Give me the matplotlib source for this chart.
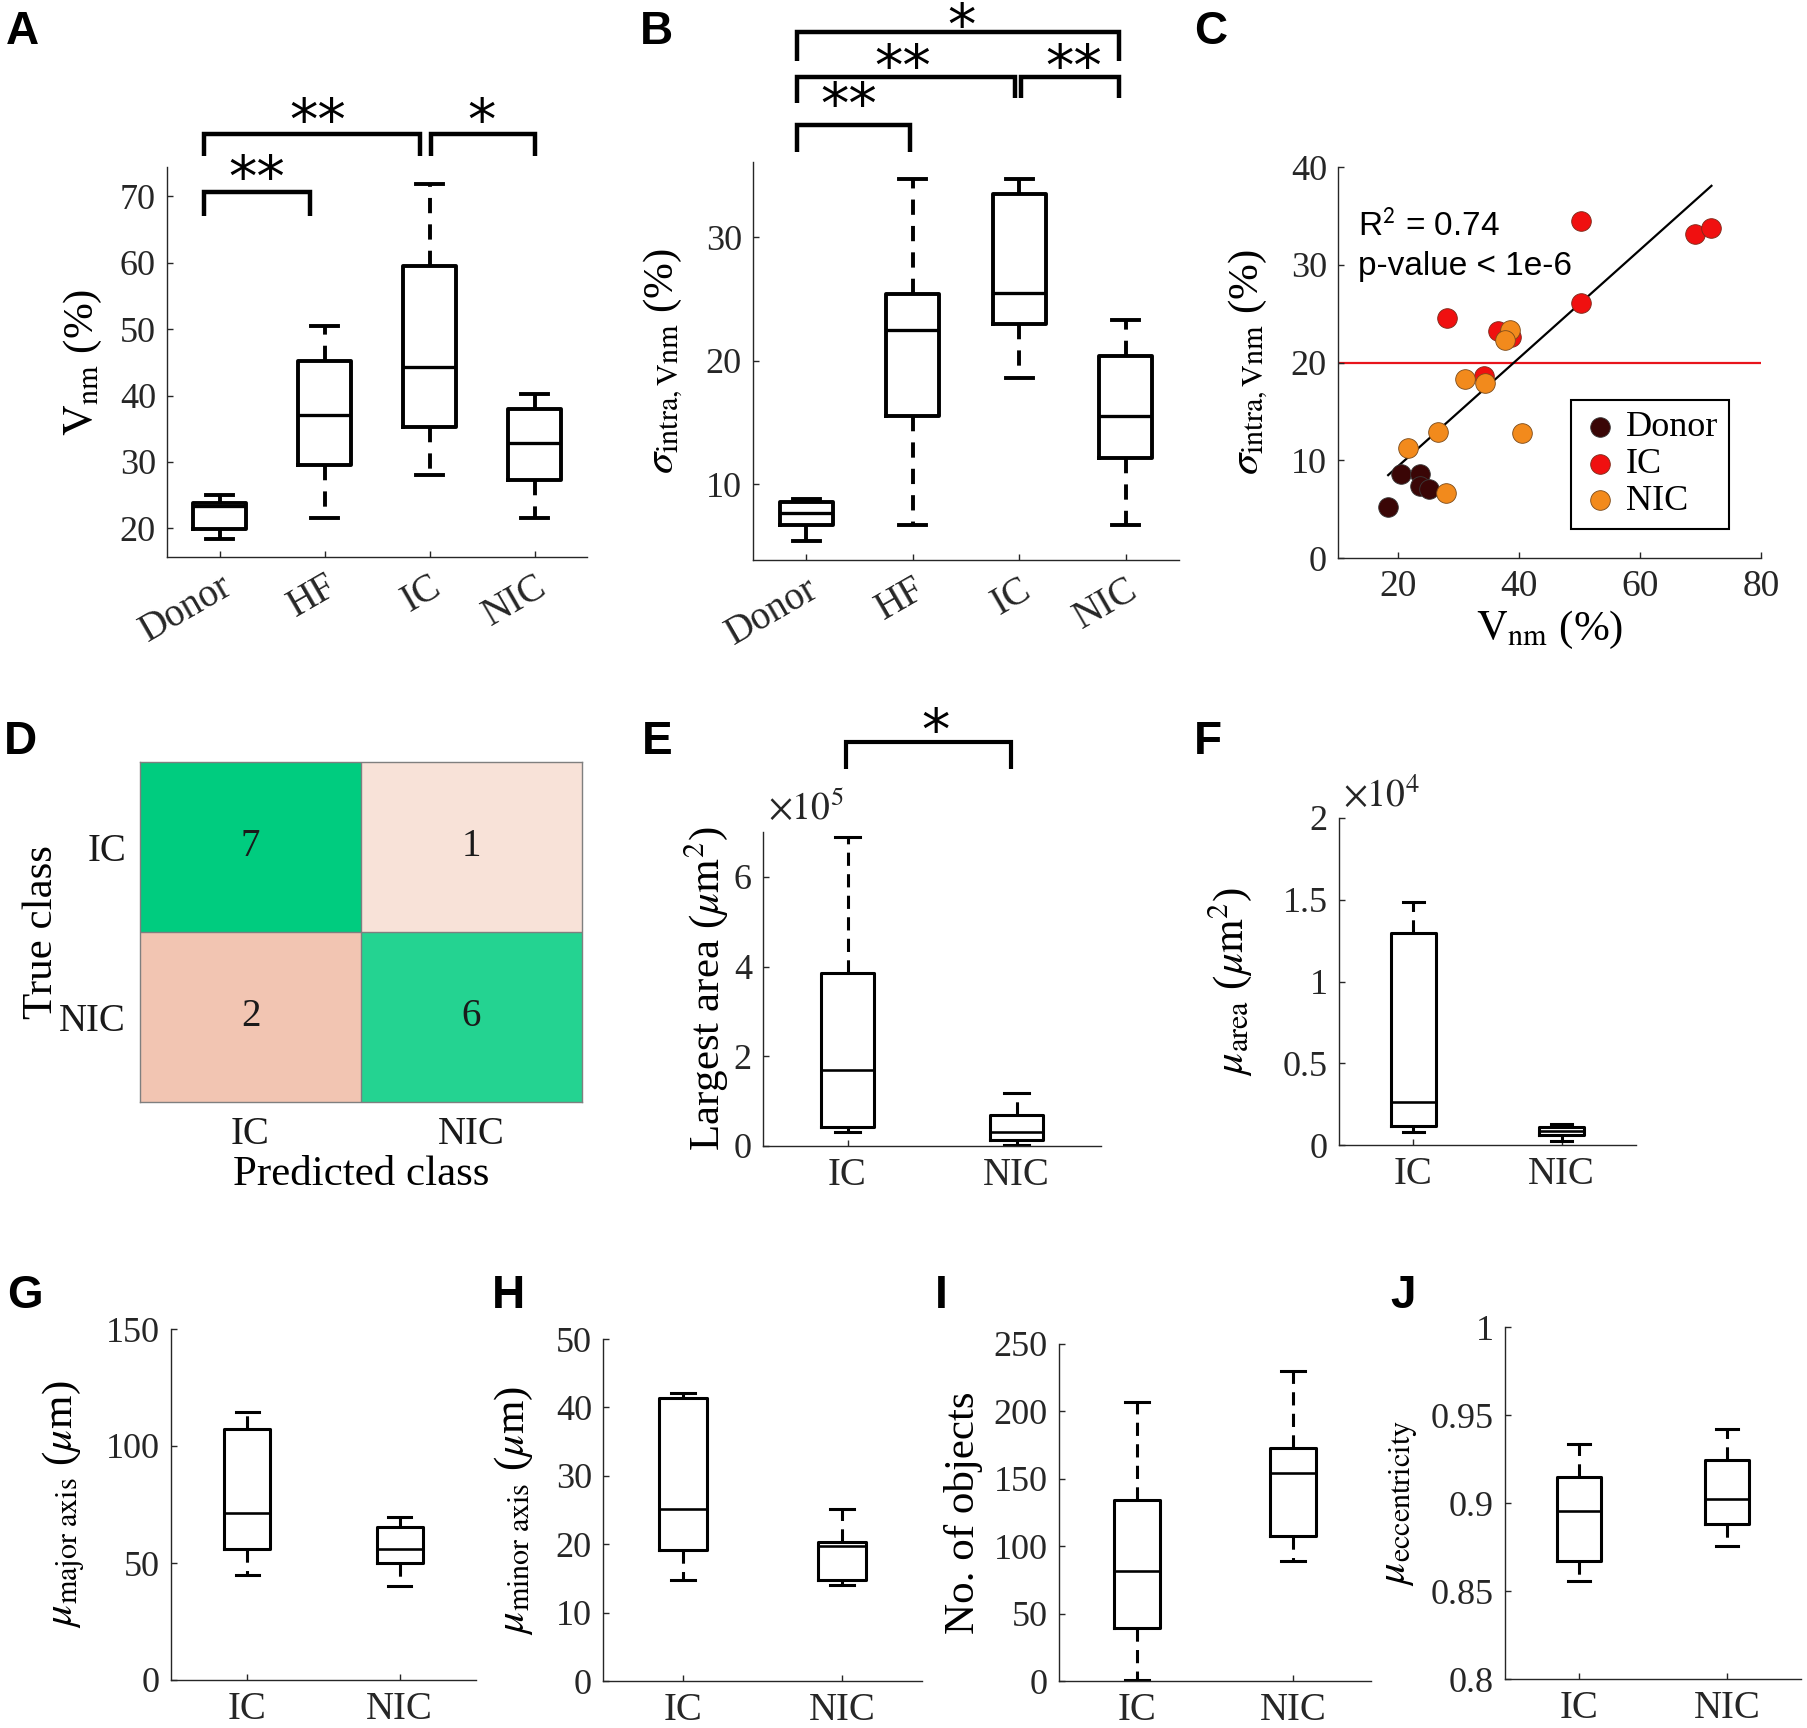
import numpy as np
import matplotlib
matplotlib.use("Agg")
import matplotlib.pyplot as plt
from matplotlib.ticker import FuncFormatter

# ---- data ----
groups4 = ["Donor", "HF", "IC", "NIC"]
groups2 = ["IC", "NIC"]

# A: V_nm (%)  -> whisker low, q1, median, q3, whisker high
a_lo = [18.4, 21.6, 28.1, 21.6]
a_q1 = [19.9, 29.5, 35.2, 27.3]
a_med = [23.4, 37.0, 44.3, 32.8]
a_q3 = [23.9, 45.2, 59.5, 38.0]
a_hi = [25.0, 50.4, 71.8, 40.3]

# B: sigma_intra,Vnm (%)
b_lo = [5.35, 6.65, 18.6, 6.65]
b_q1 = [6.7, 15.5, 23.0, 12.15]
b_med = [7.64, 22.5, 25.5, 15.5]
b_q3 = [8.55, 25.4, 33.5, 20.4]
b_hi = [8.77, 34.7, 34.7, 23.3]

# C: scatter V_nm vs sigma_intra
donor_x = [18.3, 20.5, 23.5, 23.5, 25.1]
donor_y = [5.26, 8.6, 8.6, 7.35, 7.04]
ic_x = [50.2, 69.0, 71.8, 50.2, 28.1, 36.4, 38.6, 34.1]
ic_y = [34.5, 33.1, 33.8, 26.1, 24.6, 23.2, 22.6, 18.6]
nic_x = [38.4, 37.6, 31.0, 34.4, 26.6, 40.4, 21.6, 27.8]
nic_y = [23.3, 22.3, 18.3, 17.9, 12.9, 12.8, 11.3, 6.6]
threshold = 20

# D: confusion matrix (rows true, cols predicted)
conf = np.array([[7, 1], [2, 6]])

# E: largest area (x1e5 um^2)
e_lo = [0.32, 0.02]
e_q1 = [0.43, 0.13]
e_med = [1.69, 0.32]
e_q3 = [3.85, 0.69]
e_hi = [6.89, 1.185]

# F: mean area (x1e4 um^2)
f_lo = [0.078, 0.027]
f_q1 = [0.118, 0.061]
f_med = [0.261, 0.088]
f_q3 = [1.296, 0.112]
f_hi = [1.486, 0.129]

# G: mean major axis (um)
g_lo = [44.8, 40.1]
g_q1 = [56.1, 49.8]
g_med = [71.2, 55.8]
g_q3 = [107.3, 65.2]
g_hi = [114.6, 69.7]

# H: mean minor axis (um)
h_lo = [14.8, 14.0]
h_q1 = [19.1, 14.8]
h_med = [25.2, 19.7]
h_q3 = [41.4, 20.3]
h_hi = [42.05, 25.2]

# I: number of objects
i_lo = [0.7, 89.3]
i_q1 = [39.1, 107.8]
i_med = [81.6, 154.1]
i_q3 = [134.3, 172.6]
i_hi = [207.2, 230.2]

# J: mean eccentricity
j_lo = [0.8559, 0.8754]
j_q1 = [0.8672, 0.8883]
j_med = [0.8953, 0.9023]
j_q3 = [0.9146, 0.9242]
j_hi = [0.9337, 0.9420]

# ---- style ----
W, H = 1807, 1728
AXC = "#262626"
plt.rcParams["font.family"] = ["Liberation Serif", "DejaVu Serif"]
plt.rcParams["mathtext.fontset"] = "stix"
plt.rcParams["lines.scale_dashes"] = False
YT, XT, LAB = 26, 28, 31

fig = plt.figure(figsize=(W / 100, H / 100), dpi=100)


def add_ax(l, t, r, b):
    return fig.add_axes([l / W, 1 - b / H, (r - l) / W, (b - t) / H])


def style(ax):
    for s in ["top", "right"]:
        ax.spines[s].set_visible(False)
    for s in ["left", "bottom"]:
        ax.spines[s].set_linewidth(1.0)
        ax.spines[s].set_color(AXC)
    ax.tick_params(direction="in", length=4, width=1.0, colors=AXC, pad=8)
    ax.tick_params(axis="y", labelsize=YT)
    ax.tick_params(axis="x", labelsize=XT)


def boxes(ax, lo, q1, med, q3, hi, width, cap, lw, dash):
    stats = [dict(whislo=a, q1=b, med=c, q3=d, whishi=e, fliers=[])
             for a, b, c, d, e in zip(lo, q1, med, q3, hi)]
    pos = np.arange(1, len(stats) + 1)
    ax.bxp(stats, positions=pos, widths=width, capwidths=cap, showfliers=False,
           manage_ticks=False,
           boxprops=dict(color="black", lw=lw),
           whiskerprops=dict(color="black", lw=lw, linestyle=(0, dash)),
           capprops=dict(color="black", lw=lw),
           medianprops=dict(color="black", lw=lw * 0.85))
    ax.set_xlim(0.5, len(stats) + 0.5)
    ax.set_xticks(pos)


def bracket(ax, x0, x1, ytop, yl0, yl1, lw):
    ax.plot([x0, x0, x1, x1], [yl0, ytop, ytop, yl1], color="black", lw=lw,
            clip_on=False, solid_joinstyle="miter", solid_capstyle="butt")


def stars(ax, x, y, s, size=41):
    ax.text(x, y, s, ha="center", va="center", fontsize=size,
            family="DejaVu Sans", color="black", clip_on=False)


def panel(x, y, s):
    fig.text(x / W, 1 - y / H, s, fontsize=33, fontweight="bold",
             family="Liberation Sans", va="baseline", ha="left")


gfmt = FuncFormatter(lambda v, p: "%g" % v)

# ---- A ----
ax = add_ax(167, 167, 587, 557)
style(ax)
boxes(ax, a_lo, a_q1, a_med, a_q3, a_hi, 0.5, 0.25, 2.8, (11, 8))
ax.set_ylim(15.7, 74.4)
ax.set_yticks([20, 30, 40, 50, 60, 70])
ax.set_xticklabels(groups4, rotation=30, ha="right", va="top", rotation_mode="anchor")
ax.set_ylabel(r"$\mathrm{V}_{\mathrm{nm}}$ (%)", fontsize=LAB, labelpad=11)
bracket(ax, 0.85, 1.86, 70.6, 67.1, 67.1, 3.2)
bracket(ax, 0.85, 2.91, 79.4, 76.0, 76.0, 3.2)
bracket(ax, 3.01, 4.0, 79.4, 76.0, 76.0, 3.2)
stars(ax, 1.35, 72.3, "**")
stars(ax, 1.94, 81.0, "**")
stars(ax, 3.5, 81.0, "*")

# ---- B ----
ax = add_ax(753, 162, 1179, 560)
style(ax)
boxes(ax, b_lo, b_q1, b_med, b_q3, b_hi, 0.5, 0.25, 2.8, (11, 8))
ax.set_ylim(3.85, 36.1)
ax.set_yticks([10, 20, 30])
ax.set_xticklabels(groups4, rotation=30, ha="right", va="top", rotation_mode="anchor")
ax.set_ylabel(r"$\sigma_{\mathrm{intra,Vnm}}$ (%)", fontsize=LAB, labelpad=15)
bracket(ax, 0.915, 1.97, 39.07, 36.9, 36.9, 3.2)
bracket(ax, 0.915, 2.957, 43.0, 40.9, 41.25, 3.2)
bracket(ax, 3.02, 3.94, 43.0, 41.25, 41.25, 3.2)
bracket(ax, 0.915, 3.94, 46.6, 44.3, 44.3, 3.2)
stars(ax, 1.395, 40.5, "**")
stars(ax, 1.91, 43.6, "**")
stars(ax, 3.51, 43.6, "**")
stars(ax, 2.46, 46.95, "*")

# ---- C ----
ax = add_ax(1338, 167, 1761, 558)
style(ax)
ax.axhline(threshold, color="#e8141c", lw=1.6, zorder=1)
ax.scatter(donor_x, donor_y, s=200, color="#3a0606", edgecolor="#3a3a3a", lw=0.6, label="Donor", zorder=3)
ax.scatter(ic_x, ic_y, s=200, color="#f01010", edgecolor="#7a2a1a", lw=0.6, label="IC", zorder=3)
ax.scatter(nic_x, nic_y, s=200, color="#f28a1c", edgecolor="#7a4a1a", lw=0.6, label="NIC", zorder=3)
all_x = np.array(donor_x + ic_x + nic_x)
all_y = np.array(donor_y + ic_y + nic_y)
k, b0 = np.polyfit(all_x, all_y, 1)
xf = np.array([all_x.min(), all_x.max()])
ax.plot(xf, k * xf + b0, color="black", lw=1.6, zorder=2)
ax.set_xlim(10, 80)
ax.set_ylim(0, 40)
ax.set_xticks([20, 40, 60, 80])
ax.set_yticks([0, 10, 20, 30, 40])
ax.tick_params(axis="x", labelsize=YT + 1)
ax.set_xlabel(r"$\mathrm{V}_{\mathrm{nm}}$ (%)", fontsize=LAB)
ax.set_ylabel(r"$\sigma_{\mathrm{intra,Vnm}}$ (%)", fontsize=LAB, labelpad=15)
ax.text(13.3, 34.0, r"R$^{\mathsf{2}}$ = 0.74", fontsize=24, family="Liberation Sans", va="center")
ax.text(13.3, 29.8, "p-value < 1e-6", fontsize=24, family="Liberation Sans", va="center")
leg = ax.legend(loc="upper right", bbox_to_anchor=(0.924, 0.404), borderaxespad=0,
                fontsize=26, fancybox=False, edgecolor="black", framealpha=1,
                handletextpad=0.2, labelspacing=0.1, borderpad=0.3, handlelength=1.0)
leg.get_frame().set_linewidth(1.5)

# ---- D ----
ax = add_ax(140, 762, 582, 1102)
diag_c = np.array([0.0, 0.8, 0.5])
off_c = np.array([0.85, 0.325, 0.098])
rgb = np.ones((2, 2, 3))
dmax = np.diag(conf).max()
dmin = np.diag(conf).min()
for r in range(2):
    for c in range(2):
        base, a = (diag_c, conf[r, c] / dmax) if r == c else (off_c, conf[r, c] / dmin)
        rgb[r, c] = 1 - a * (1 - base)
        ax.text(c, r, str(conf[r, c]), ha="center", va="center", fontsize=28, color="#1a1a1a")
ax.imshow(rgb, aspect="auto", extent=(-0.5, 1.5, 1.5, -0.5))
ax.axhline(0.5, color="#7f7f7f", lw=1)
ax.axvline(0.5, color="#7f7f7f", lw=1)
for s in ax.spines.values():
    s.set_color("#7f7f7f")
    s.set_linewidth(1)
ax.set_xticks([0, 1])
ax.set_yticks([0, 1])
ax.set_xticklabels(groups2)
ax.set_yticklabels(groups2)
ax.tick_params(length=0, labelsize=28, colors="#1a1a1a", pad=10)
ax.set_xlabel("Predicted class", fontsize=LAB, labelpad=2)
ax.set_ylabel("True class", fontsize=LAB, labelpad=-1)

# ---- E ----
ax = add_ax(763, 832, 1101, 1146)
style(ax)
boxes(ax, e_lo, e_q1, e_med, e_q3, e_hi, 0.31, 0.15, 2.2, (9.5, 6))
ax.set_ylim(0, 7)
ax.set_yticks([0, 2, 4, 6])
ax.set_xticklabels(groups2)
ax.set_ylabel(r"Largest area ($\mu\mathrm{m}^2$)", fontsize=LAB, labelpad=3)
ax.text(0.015, 1.038, r"$\times 10^5$", transform=ax.transAxes, fontsize=27, va="baseline", color=AXC)
bracket(ax, 0.99, 1.97, 9.0, 8.4, 8.4, 3.0)
stars(ax, 1.52, 9.2, "*")

# ---- F ----
ax = add_ax(1339, 818, 1636, 1145)
style(ax)
boxes(ax, f_lo, f_q1, f_med, f_q3, f_hi, 0.30, 0.14, 2.2, (9.5, 6))
ax.set_ylim(0, 2)
ax.set_yticks([0, 0.5, 1, 1.5, 2])
ax.yaxis.set_major_formatter(gfmt)
ax.set_xticklabels(groups2)
ax.set_ylabel(r"$\mu_{\mathrm{area}}$ ($\mu\mathrm{m}^2$)", fontsize=LAB, labelpad=21)
ax.text(0.015, 1.034, r"$\times 10^4$", transform=ax.transAxes, fontsize=27, va="baseline", color=AXC)

# ---- G ----
ax = add_ax(171, 1329, 476, 1680)
style(ax)
boxes(ax, g_lo, g_q1, g_med, g_q3, g_hi, 0.30, 0.15, 2.2, (9.5, 6))
ax.set_ylim(0, 150)
ax.set_yticks([0, 50, 100, 150])
ax.set_xticklabels(groups2)
ax.set_ylabel(r"$\mu_{\mathrm{major\ axis}}$ ($\mu$m)", fontsize=LAB, labelpad=13)

# ---- H ----
ax = add_ax(603, 1339, 922, 1681)
style(ax)
boxes(ax, h_lo, h_q1, h_med, h_q3, h_hi, 0.30, 0.15, 2.2, (9.5, 6))
ax.set_ylim(0, 50)
ax.set_yticks([0, 10, 20, 30, 40, 50])
ax.set_xticklabels(groups2)
ax.set_ylabel(r"$\mu_{\mathrm{minor\ axis}}$ ($\mu$m)", fontsize=LAB, labelpad=15)

# ---- I ----
ax = add_ax(1059, 1344, 1371, 1681)
style(ax)
boxes(ax, i_lo, i_q1, i_med, i_q3, i_hi, 0.30, 0.15, 2.2, (9.5, 6))
ax.set_ylim(0, 250)
ax.set_yticks([0, 50, 100, 150, 200, 250])
ax.set_xticklabels(groups2)
ax.set_ylabel("No. of objects", fontsize=LAB, labelpad=8)

# ---- J ----
ax = add_ax(1505, 1327, 1801, 1679)
style(ax)
boxes(ax, j_lo, j_q1, j_med, j_q3, j_hi, 0.30, 0.15, 2.2, (9.5, 6))
ax.set_ylim(0.8, 1.0)
ax.set_yticks([0.8, 0.85, 0.9, 0.95, 1.0])
ax.yaxis.set_major_formatter(gfmt)
ax.set_xticklabels(groups2)
ax.set_ylabel(r"$\mu_{\mathrm{eccentricity}}$", fontsize=LAB, labelpad=7)

# panel letters
panel(6, 44, "A")
panel(640, 44, "B")
panel(1194, 44, "C")
panel(4, 754, "D")
panel(642, 754, "E")
panel(1194, 754, "F")
panel(7, 1308, "G")
panel(492, 1308, "H")
panel(935, 1308, "I")
panel(1390, 1308, "J")

fig.savefig("out.png", dpi=100)
